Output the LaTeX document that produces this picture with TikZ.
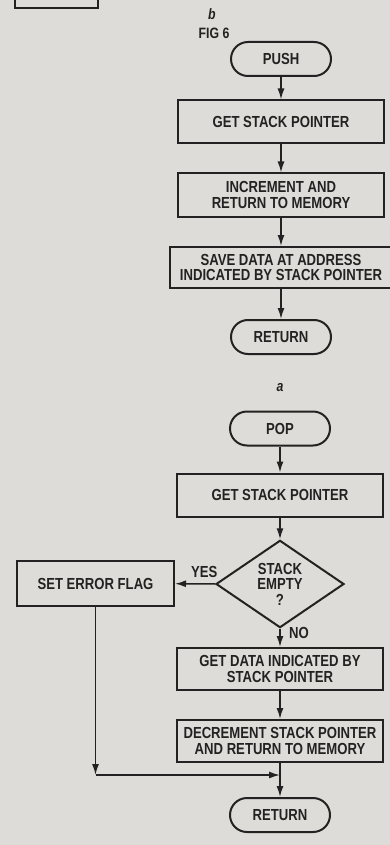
\documentclass[tikz,border=0pt]{standalone}
\usepackage{fontspec}
\setmainfont{Liberation Sans}[FakeStretch=0.82]
\usetikzlibrary{arrows.meta}
\usetikzlibrary{shapes.geometric}
\tikzset{>={Latex[length=11pt,width=7pt]}}
\definecolor{paper}{HTML}{DEDCD8}
\definecolor{ink}{HTML}{222222}
\newcommand\boxfont{\fontsize{16}{15.5}\selectfont\bfseries}
\tikzstyle{process}=[draw=ink,text=ink,line width=2pt,minimum width=206pt,minimum height=43pt,align=center,inner sep=2pt,font=\boxfont]
\tikzstyle{terminal}=[draw=ink,text=ink,line width=2pt,rounded corners=17pt,minimum width=100pt,minimum height=34pt,font=\boxfont]
\tikzstyle{decision}=[draw=ink,text=ink,line width=2pt,diamond,minimum width=128pt,minimum height=76pt,inner sep=0pt,align=center,font=\boxfont]
\tikzstyle{flow}=[draw=ink,line width=1.5pt]
\tikzstyle{caption}=[text=ink,font=\fontsize{15}{15}\selectfont\bfseries]

\begin{document}
\begin{tikzpicture}[x=1pt,y=-1pt]
  \useasboundingbox (0,0) rectangle (390,845);
  \clip (0,0) rectangle (390,845);
  \fill[paper] (0,0) rectangle (390,845);
  % piece of the figure above
  \draw[ink,line width=2pt] (15,-20) rectangle (98,8);
  \node[caption] (figb) at (212,14) {\itshape b};
  \node[caption] (figno) at (214,33) {FIG 6};
  % push
  \node[terminal] (push) at (281,59) {PUSH};
  \node[process] (getsp) at (281,122) {GET STACK POINTER};
  \node[process] (incr) at (281,195) {INCREMENT AND\\RETURN TO MEMORY};
  \node[process,minimum width=222pt,minimum height=41pt,inner sep=1pt] (save) at (281,267.5) {SAVE DATA AT ADDRESS\\INDICATED BY STACK POINTER};
  \node[terminal] (retpush) at (281,337) {RETURN};
  \node[caption] (figa) at (280,388) {\itshape a};
  \draw[flow,->] (push) -- (getsp);
  \draw[flow,->] (getsp) -- (incr);
  \draw[flow,->] (incr) -- (save);
  \draw[flow,->] (save) -- (retpush);
  % pop
  \node[terminal] (pop) at (280,428.5) {POP};
  \node[process] (getsp2) at (280,495) {GET STACK POINTER};
  \node[decision] (empty) at (280,584) {STACK\\EMPTY\\?};
  \node[process,minimum width=157pt,minimum height=45pt] (err) at (95.5,583.5) {SET ERROR FLAG};
  \node[process,minimum height=42pt] (getdata) at (280,669) {GET DATA INDICATED BY\\STACK POINTER};
  \node[process,minimum height=42pt] (decr) at (280,741) {DECREMENT STACK POINTER\\AND RETURN TO MEMORY};
  \node[terminal] (retpop) at (280,815) {RETURN};
  \coordinate (join) at (280,775);
  \coordinate (corner) at (err.south |- join);
  \draw[flow,->] (pop) -- (getsp2);
  \draw[flow,->] (getsp2) -- (empty);
  \draw[flow,->] (empty) -- node[caption,above,xshift=9pt,yshift=2pt,font=\boxfont] (yes) {YES} (err);
  \draw[flow,->] (empty) -- node[caption,right,xshift=5pt,yshift=5pt,font=\boxfont] (no) {NO} (getdata);
  \draw[flow,->] (getdata) -- (decr);
  \draw[flow,->] (decr) -- (retpop);
  \draw[flow,->] (err) -- (corner);
  \draw[flow,->] (corner) -- (join);
\end{tikzpicture}
\end{document}
